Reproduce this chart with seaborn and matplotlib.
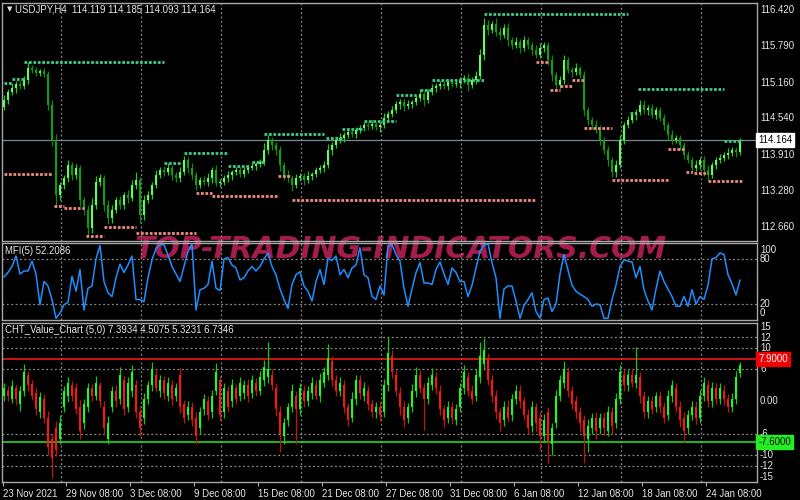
import numpy as np
import pandas as pd
import matplotlib
matplotlib.use("Agg")
import matplotlib.pyplot as plt
from matplotlib import font_manager
import seaborn as sns

# ---------------- data ----------------
symbol_header = "USDJPY,H4  114.119 114.185 114.093 114.164"
mfi_header = "MFI(5) 52.2086"
vc_header = "CHT_Value_Chart (5,0) 7.3934 4.5075 5.3231 6.7346"
watermark = "TOP-TRADING-INDICATORS.COM"

first_open = 114.74
closes = [
    114.860, 114.999, 115.068, 115.138, 115.103, 115.207, 115.415, 115.380, 115.328, 115.363,
    115.311, 114.774, 114.167, 113.214, 113.387, 113.508, 113.734, 113.560, 113.682, 113.127,
    112.954, 112.642, 113.040, 113.439, 113.508, 113.040, 112.815, 112.954, 113.127, 113.040,
    113.214, 113.162, 113.387, 113.474, 112.867, 113.127, 113.214, 113.387, 113.560, 113.647,
    113.612, 113.682, 113.560, 113.508, 113.612, 113.820, 113.682, 113.560, 113.387, 113.474,
    113.439, 113.508, 113.647, 113.422, 113.439, 113.508, 113.560, 113.612, 113.647, 113.578,
    113.647, 113.682, 113.716, 113.751, 113.786, 113.994, 114.167, 114.080, 113.994, 113.734,
    113.560, 113.508, 113.387, 113.508, 113.543, 113.474, 113.543, 113.578, 113.647, 113.682,
    113.734, 113.994, 114.080, 114.167, 114.202, 114.254, 114.306, 114.271, 114.340, 114.375,
    114.427, 114.410, 114.444, 114.392, 114.427, 114.548, 114.618, 114.687, 114.791, 114.826,
    114.756, 114.791, 114.826, 114.895, 114.964, 114.860, 114.999, 115.068, 115.103, 115.138,
    115.103, 115.172, 115.138, 115.155, 115.207, 115.241, 115.120, 115.207, 115.276, 115.640,
    116.160, 116.073, 116.177, 116.039, 115.987, 116.108, 115.900, 115.813, 115.865, 115.761,
    115.900, 115.813, 115.727, 115.640, 115.761, 115.813, 115.553, 115.293, 115.120, 115.207,
    115.553, 115.380, 115.345, 115.415, 115.293, 114.687, 114.514, 114.427, 114.375, 114.167,
    113.994, 113.820, 113.612, 113.734, 114.167, 114.427, 114.514, 114.600, 114.652, 114.774,
    114.687, 114.722, 114.600, 114.687, 114.548, 114.427, 114.254, 114.167, 114.202, 114.080,
    113.907, 113.820, 113.682, 113.734, 113.820, 113.647, 113.560, 113.734, 113.820, 113.855,
    113.907, 113.942, 113.994, 113.960, 114.164,
]
upper_wick_pips = [
    8, 6, 9, 5, 6, 7, 10, 5, 6, 4,
    5, 6, 8, 10, 6, 5, 9, 6, 7, 5,
    6, 8, 12, 10, 7, 6, 9, 8, 6, 7,
    5, 8, 9, 14, 6, 8, 7, 6, 9, 5,
    7, 8, 6, 5, 9, 7, 6, 8, 5, 6,
    7, 9, 6, 8, 5, 6, 7, 4, 6, 5,
    6, 5, 7, 4, 6, 12, 8, 6, 5, 7,
    6, 8, 5, 7, 6, 5, 8, 4, 6, 5,
    7, 10, 6, 5, 8, 6, 7, 5, 6, 5,
    6, 5, 7, 4, 6, 8, 6, 7, 5, 6,
    5, 7, 4, 6, 8, 5, 6, 7, 5, 6,
    5, 6, 4, 7, 6, 5, 8, 6, 9, 10,
    12, 8, 6, 10, 8, 7, 9, 6, 8, 5,
    7, 6, 5, 8, 9, 6, 5, 8, 6, 7,
    8, 5, 6, 9, 4, 7, 6, 5, 8, 6,
    6, 7, 5, 9, 8, 6, 7, 5, 6, 9,
    8, 6, 7, 5, 6, 7, 5, 8, 6, 5,
    6, 7, 5, 8, 6, 7, 9, 5, 6, 7,
    6, 8, 5, 6, 4,
]
lower_wick_pips = [
    6, 7, 5, 8, 6, 5, 7, 6, 5, 6,
    6, 8, 10, 20, 8, 7, 6, 9, 7, 10,
    8, 12, 9, 6, 7, 10, 11, 8, 6, 7,
    6, 9, 5, 7, 14, 8, 6, 7, 5, 6,
    7, 5, 8, 6, 7, 6, 9, 7, 8, 6,
    5, 7, 8, 6, 7, 5, 6, 8, 5, 6,
    5, 6, 4, 7, 5, 6, 7, 8, 9, 10,
    8, 7, 10, 6, 5, 8, 6, 7, 5, 6,
    7, 6, 8, 5, 6, 7, 5, 6, 7, 5,
    6, 7, 5, 6, 8, 5, 7, 6, 5, 8,
    9, 6, 7, 5, 6, 10, 5, 6, 7, 5,
    6, 7, 5, 6, 8, 5, 10, 6, 7, 5,
    8, 9, 6, 7, 8, 6, 10, 7, 6, 8,
    6, 7, 8, 6, 5, 7, 9, 10, 8, 6,
    7, 6, 8, 5, 6, 10, 8, 7, 9, 8,
    7, 10, 9, 8, 6, 7, 5, 6, 8, 6,
    7, 8, 6, 7, 5, 8, 9, 7, 6, 8,
    7, 6, 9, 5, 7, 10, 8, 6, 7, 5,
    6, 7, 5, 8, 5,
]
# resistance (green) and support (salmon) fractal levels: (first bar, last bar, price)
res_levels = [
    (0, 2, 115.155), (2, 5, 115.224), (5, 40, 115.519), (40, 44.5, 113.768),
    (45, 56, 113.947), (56, 61.5, 113.716), (62, 65, 113.786), (65, 80, 114.271),
    (80.5, 84.5, 114.202), (84.5, 89.5, 114.358), (90, 98, 114.496), (98, 103, 114.947),
    (104, 107, 115.033), (107, 120, 115.207), (120, 156, 116.342), (156.5, 158, 114.635),
    (158.5, 180, 115.051), (180, 184.5, 114.150),
]
sup_levels = [
    (0, 12, 113.578), (12.5, 15, 113.023), (15, 20, 112.988), (20.5, 25, 112.503),
    (25, 33, 112.659), (33, 48, 112.555), (48, 52, 113.248), (52, 68.5, 113.196),
    (68.5, 71.5, 113.543), (72, 133, 113.127), (133, 136, 115.519), (136.5, 139, 115.033),
    (139, 142, 115.103), (142, 145, 115.207), (145, 152, 114.375), (152, 166, 113.474),
    (166, 170, 114.011), (170.5, 172, 113.612), (172.5, 176, 113.595), (176, 184.5, 113.456),
]
last_price = 114.164

mfi_values = [
    56, 62, 70, 84, 60, 64, 64, 77, 60, 19,
    50, 44, 26, 1, 8, 19, 22, 57, 37, 66,
    12, 41, 44, 80, 98, 50, 35, 30, 55, 73,
    62, 72, 84, 26, 26, 23, 55, 79, 94, 99,
    99, 85, 70, 60, 50, 70, 90, 100, 12, 39,
    41, 46, 77, 41, 38, 80, 82, 72, 68, 52,
    55, 64, 70, 64, 70, 80, 88, 70, 59, 40,
    26, 14, 46, 59, 63, 44, 37, 24, 50, 66,
    46, 81, 78, 84, 59, 66, 55, 68, 72, 95,
    59, 55, 30, 26, 44, 32, 97, 99, 86, 77,
    41, 17, 40, 62, 75, 48, 48, 46, 66, 76,
    60, 46, 68, 62, 50, 50, 30, 45, 68, 90,
    99, 100, 75, 55, 1, 40, 44, 44, 24, 1,
    18, 26, 35, 10, 1, 26, 28, 10, 20, 60,
    86, 65, 45, 37, 33, 30, 26, 17, 20, 19,
    1, 1, 26, 45, 70, 79, 77, 76, 55, 70,
    39, 24, 12, 40, 64, 50, 40, 30, 17, 17,
    30, 17, 39, 20, 30, 26, 45, 80, 82, 88,
    86, 59, 47, 32, 52,
]

vc_open = [
    1.0, 2.0, 0.5, 2.5, -0.5, 2.0, 5.0, 3.2, 1.5, -2.0,
    0.5, -3.0, -7.0, -5.0, -7.0, -1.0, 1.0, 3.0, 2.5, -1.0,
    -4.0, -1.0, 2.5, 1.0, 3.0, -1.0, -7.0, -1.0, 2.0, 0.5,
    4.0, -1.0, 2.0, 3.0, -2.0, -3.0, 0.5, 3.0, 5.0, 2.0,
    4.0, 1.0, 3.0, 1.0, 5.0, -0.5, -2.5, -1.0, -3.0, -5.0,
    -1.5, 0.0, -2.0, 2.0, 4.0, -2.0, 2.0, 0.0, 2.5, 1.0,
    1.5, 3.0, 1.5, 3.5, 2.0, 4.0, 4.5, 5.0, 2.5, -2.0,
    -6.5, -3.5, -1.0, 1.0, -1.5, 2.0, 0.0, 1.5, 3.0, 1.0,
    3.5, 5.0, 7.5, 4.0, 2.0, 3.0, -1.0, -3.0, 0.5, 4.0,
    1.0, 2.0, -0.5, -2.0, -1.0, -2.0, 3.0, 8.5, 5.0, 1.5,
    -1.0, -3.0, -1.0, 2.0, 5.0, 2.5, 0.5, 3.0, 4.5, 2.0,
    -1.5, -3.0, -1.0, -3.5, -1.0, 2.5, 4.5, 2.0, 1.0, 4.5,
    7.0, 8.0, 4.0, 1.0, -2.0, -3.5, -1.0, -2.5, 0.5, 2.0,
    0.0, -2.5, -4.5, -1.0, -3.0, -6.5, -2.0, -8.0, -4.0, 1.0,
    3.5, 5.5, 2.0, 0.0, -2.0, -3.5, -7.0, -5.0, -3.0, -5.0,
    -3.0, -5.5, -2.0, -4.0, 0.5, 5.0, 3.0, 5.0, 3.5, 4.5,
    1.0, -2.0, 0.0, -1.0, 1.0, -1.0, -2.5, 1.0, 2.5, -1.0,
    -3.0, -5.0, -2.5, -1.0, -3.0, 1.0, 3.0, 0.0, 2.5, 0.5,
    2.0, 0.5, -1.0, 0.5, 5.3,
]
vc_close = [
    2.5, 1.0, 2.8, 0.5, 2.0, 5.5, 3.0, 1.0, -1.5, 0.8,
    -3.0, -8.5, -10.5, -9.0, -4.0, 2.0, 3.5, 1.0, -1.5, -5.5,
    -0.5, 2.5, 1.0, 3.5, 0.0, -5.0, -4.0, 2.0, 0.0, 5.0,
    -1.5, 3.5, 5.5, -2.0, -5.0, 0.5, 3.0, 6.0, 2.5, 4.0,
    1.5, 3.5, 0.5, 2.5, -1.0, -3.0, -1.0, -3.5, -6.5, -2.0,
    0.5, -2.5, 1.0, 5.5, -2.5, 2.5, -1.0, 3.0, 0.5, 3.5,
    3.0, 1.0, 4.0, 2.0, 4.5, 6.5, 6.0, 3.0, -1.5, -6.0,
    -4.0, -1.0, 2.0, -1.5, 2.5, 0.0, 2.0, 3.5, 1.0, 4.0,
    5.5, 8.0, 4.0, 2.0, 3.5, -1.0, -3.5, 0.5, 4.0, 1.5,
    2.5, -0.5, -2.0, -1.0, -2.5, 3.0, 9.0, 5.5, 2.0, -1.0,
    -3.5, -1.0, 2.0, 5.0, 2.5, 0.5, 3.5, 5.0, 2.5, -1.5,
    -3.5, -1.0, -3.0, -1.5, 2.5, 5.5, 2.0, 0.5, 5.0, 8.5,
    9.5, 4.0, 1.0, -2.0, -4.0, -1.0, -3.0, 0.5, 2.0, 0.0,
    -2.5, -5.0, -1.0, -4.0, -6.5, -3.5, -7.5, -5.0, 1.0, 4.0,
    6.0, 2.0, -0.5, -2.0, -4.0, -6.5, -4.5, -3.0, -5.5, -3.0,
    -5.0, -2.0, -4.5, 0.5, 5.5, 3.0, 5.0, 3.5, 5.0, 1.0,
    -2.0, 0.0, -1.5, 1.0, -1.0, -3.0, 1.0, 3.0, -1.0, -3.5,
    -5.5, -2.5, -1.0, -3.0, 1.0, 3.5, 0.0, 2.5, 0.5, 2.5,
    0.5, -1.0, 0.5, 4.5, 6.7,
]
vc_wick_up = [
    1.0, 0.8, 1.2, 0.6, 0.9, 1.5, 0.7, 0.8, 1.0, 0.9,
    0.8, 1.2, 1.0, 1.4, 1.5, 0.9, 1.1, 0.8, 1.0, 1.2,
    1.0, 0.9, 0.8, 1.3, 0.7, 1.0, 1.2, 0.9, 1.0, 1.4,
    0.8, 1.0, 1.3, 0.9, 1.1, 1.0, 0.8, 1.4, 0.9, 1.0,
    0.8, 1.1, 0.9, 1.0, 1.2, 0.8, 1.0, 0.9, 1.1, 1.0,
    0.9, 1.0, 1.2, 1.6, 0.8, 1.0, 0.9, 1.1, 0.8, 1.0,
    0.9, 1.1, 1.0, 0.8, 1.2, 1.3, 5.0, 1.0, 0.9, 1.1,
    1.0, 0.8, 1.2, 0.9, 1.0, 1.1, 0.8, 1.0, 0.9, 1.2,
    1.0, 2.7, 1.0, 0.9, 1.1, 1.0, 0.8, 1.2, 1.0, 0.9,
    1.1, 0.8, 1.0, 0.9, 1.0, 1.2, 3.0, 1.0, 0.9, 1.1,
    1.0, 0.8, 1.2, 1.5, 0.9, 1.0, 1.1, 1.2, 0.9, 1.0,
    0.8, 1.0, 0.9, 1.1, 1.0, 1.2, 0.9, 1.0, 1.1, 2.5,
    2.3, 1.0, 0.9, 1.1, 0.8, 1.0, 1.2, 0.9, 1.0, 1.1,
    0.9, 1.0, 1.1, 0.8, 1.0, 1.2, 1.0, 0.9, 1.1, 1.0,
    1.5, 1.0, 0.8, 1.1, 0.9, 1.0, 1.2, 0.9, 1.0, 0.8,
    1.0, 1.1, 0.9, 1.0, 1.2, 1.0, 0.9, 1.1, 5.2, 1.0,
    0.9, 1.0, 1.1, 0.8, 1.0, 0.9, 1.2, 1.0, 0.9, 1.1,
    1.0, 0.9, 1.1, 1.0, 1.2, 1.0, 0.9, 1.1, 1.0, 0.9,
    1.0, 0.8, 1.1, 1.2, 0.7,
]
vc_wick_dn = [
    0.9, 1.0, 0.8, 1.1, 1.2, 0.9, 1.0, 0.8, 1.0, 1.1,
    1.0, 1.5, 3.8, 1.2, 1.0, 0.9, 1.1, 1.0, 0.9, 1.5,
    1.1, 0.9, 1.0, 0.8, 1.0, 1.2, 1.0, 0.9, 1.1, 1.0,
    1.0, 0.9, 1.1, 1.0, 1.5, 1.2, 0.9, 1.0, 0.8, 1.1,
    1.0, 0.9, 1.1, 1.0, 1.2, 1.0, 0.9, 1.1, 1.5, 1.0,
    1.1, 0.9, 1.0, 0.8, 1.2, 1.0, 0.9, 1.1, 1.0, 0.9,
    1.0, 1.1, 0.9, 1.0, 0.8, 1.1, 1.0, 0.9, 1.2, 3.5,
    1.5, 1.0, 0.9, 6.5, 1.0, 1.1, 0.9, 1.0, 0.8, 1.1,
    0.9, 1.0, 1.1, 1.0, 0.9, 1.2, 1.0, 0.9, 1.1, 1.0,
    1.0, 1.1, 0.9, 1.0, 1.2, 0.9, 1.0, 1.1, 1.0, 1.5,
    1.2, 1.0, 0.9, 1.1, 1.0, 5.8, 1.0, 0.9, 1.1, 1.0,
    1.5, 1.0, 1.2, 0.9, 1.0, 1.1, 1.0, 0.9, 1.0, 1.1,
    1.0, 0.9, 1.1, 1.2, 1.5, 1.0, 0.9, 1.1, 1.0, 1.2,
    1.0, 1.1, 1.2, 1.5, 2.5, 1.0, 4.0, 2.0, 1.0, 0.9,
    1.0, 1.1, 0.9, 1.2, 1.5, 5.0, 2.5, 1.0, 1.5, 1.0,
    1.2, 1.0, 1.5, 1.0, 0.9, 1.1, 1.0, 0.9, 1.0, 1.2,
    1.1, 1.0, 0.9, 1.0, 1.2, 1.0, 0.9, 1.1, 1.0, 1.2,
    2.0, 1.0, 0.9, 1.2, 1.0, 0.9, 1.1, 1.0, 0.9, 1.0,
    1.1, 1.0, 0.9, 1.0, 0.8,
]
vc_upper_level = 7.9
vc_lower_level = -7.6

time_labels = ["23 Nov 2021", "29 Nov 08:00", "3 Dec 08:00", "9 Dec 08:00", "15 Dec 08:00",
               "21 Dec 08:00", "27 Dec 08:00", "31 Dec 08:00", "6 Jan 08:00", "12 Jan 08:00",
               "18 Jan 08:00", "24 Jan 08:00"]
price_ticks = [116.420, 115.790, 115.160, 114.540, 113.910, 113.280, 112.660]
mfi_ticks = [100, 80, 20, 0]
vc_ticks = ["15", "12", "10", "6", "0.00", "-6", "-10", "-12", "-15"]

# ---------------- style ----------------
sns.set_theme(style="dark", rc={"axes.facecolor": "none", "figure.facecolor": "black",
                                "axes.grid": False})
names = {f.name for f in font_manager.fontManager.ttflist}
small = "Liberation Sans" if "Liberation Sans" in names else "DejaVu Sans"
plt.rcParams["font.family"] = [small, "DejaVu Sans"]

TXT = "#E8E8E8"
GRID = "#8A8A8A"
SPINE = "#A8A8A8"
FS = 6.9

n = len(closes)
idx = np.arange(n)
xmin, xmax = -0.5, 188.25
vgrid = [14.25 + 20 * k for k in range(9)]
tick_pos = [-0.3, 15.5, 31.5, 47.5, 63.5, 79.5, 95.5, 111.5, 127.5, 143.5, 159.5, 175.5]

fig = plt.figure(figsize=(8, 5), dpi=100, facecolor="black")
W = 755 / 800
ax1 = fig.add_axes([2 / 800, 1 - 241 / 500, W, 238 / 500])
ax2 = fig.add_axes([2 / 800, 1 - 320 / 500, W, 77 / 500])
ax3 = fig.add_axes([2 / 800, 1 - 482 / 500, W, 159 / 500])

for ax in (ax1, ax2, ax3):
    ax.set_facecolor("none")
    ax.set_xlim(xmin, xmax)
    for s in ax.spines.values():
        s.set_color(SPINE)
        s.set_linewidth(1.0)
        s.set_visible(True)
    ax.set_yticks([])
    for g in vgrid:
        ax.axvline(g, color=GRID, lw=0.9, ls=(0, (1.5, 2.0)), zorder=1)
ax1.set_xticks([])
ax2.set_xticks([])

# watermark behind the panels
fig.text(401 / 800, 1 - 249 / 500, watermark, ha="center", va="center",
         fontsize=21.5, fontweight="bold", fontstyle="oblique", family="DejaVu Sans",
         color="#A31C4D", zorder=-1)


def draw_candles(ax, o, c, h, l, up_body, dn_body, up_wick, dn_wick, width, minh):
    o = np.asarray(o, float)
    c = np.asarray(c, float)
    up = c >= o
    ax.vlines(idx, l, h, colors=np.where(up, up_wick, dn_wick), linewidth=0.9, zorder=3)
    ax.bar(idx, np.maximum(np.abs(c - o), minh), bottom=np.minimum(o, c), width=width,
           color=np.where(up, up_body, dn_body), linewidth=0, zorder=4)


# ---- price panel ----
c = np.array(closes)
o = np.array([first_open] + closes[:-1])
hi = np.maximum(o, c) + np.array(upper_wick_pips) / 100
lo = np.minimum(o, c) - np.array(lower_wick_pips) / 100
ax1.set_ylim(112.417, 116.541)
ax1.axhline(last_price, color="#7A8796", lw=0.9, zorder=2)
draw_candles(ax1, o, c, hi, lo, "#5CFF5C", "#0FA00F", "#22C922", "#0B8A0B", 0.62, 0.008)
for s, e, p in res_levels:
    ax1.plot([s, e], [p, p], color="#3CCB86", lw=2.0, ls=(0, (1.0, 0.6)), zorder=5,
             solid_capstyle="butt")
for s, e, p in sup_levels:
    ax1.plot([s, e], [p, p], color="#F08A7E", lw=2.0, ls=(0, (1.0, 0.6)), zorder=5,
             solid_capstyle="butt")
ytr = ax1.get_yaxis_transform()
for p in price_ticks:
    ax1.text(1.004, p, f"{p:.3f}", transform=ytr, ha="left", va="center",
             fontsize=FS, color=TXT, clip_on=False)
ax1.text(1.0015, last_price, f"{last_price:.3f}", transform=ytr, ha="left", va="center",
         fontsize=FS, color="black", clip_on=False,
         bbox=dict(boxstyle="square,pad=0.22", fc="white", ec="white"))
ax1.text(0.006, 0.975, "\u25bc", transform=ax1.transAxes, fontsize=5, color=TXT,
         va="center", ha="left", family="DejaVu Sans")
ax1.text(0.017, 0.974, symbol_header, transform=ax1.transAxes, fontsize=FS, color=TXT,
         va="center", ha="left")

# ---- MFI panel ----
df_mfi = pd.DataFrame({"bar": idx, "mfi": mfi_values})
sns.lineplot(data=df_mfi, x="bar", y="mfi", ax=ax2, color="#1E8FFF", lw=1.1, zorder=4)
ax2.set_ylim(-1.3, 101.3)
ax2.set_xlabel("")
ax2.set_ylabel("")
for g in (80, 20):
    ax2.axhline(g, color=GRID, lw=0.9, ls=(0, (1.5, 2.0)), zorder=1)
ytr2 = ax2.get_yaxis_transform()
for v, pos in zip(mfi_ticks, [92, 80, 20, 8]):
    ax2.text(1.004, pos, str(v), transform=ytr2, ha="left", va="center",
             fontsize=FS, color=TXT, clip_on=False)
ax2.text(0.004, 0.89, mfi_header, transform=ax2.transAxes, fontsize=FS, color=TXT,
         va="center", ha="left")

# ---- Value chart panel ----
vo = np.array(vc_open)
vcl = np.array(vc_close)
vh = np.maximum(vo, vcl) + np.array(vc_wick_up)
vl = np.minimum(vo, vcl) - np.array(vc_wick_dn)
ax3.set_ylim(-15.0, 14.6)
for g in (12, 10, 6, -6, -10, -12):
    ax3.axhline(g, color=GRID, lw=0.9, ls=(0, (1.5, 2.0)), zorder=1)
ax3.axhline(vc_upper_level, color="#FF1A1A", lw=1.1, zorder=2)
ax3.axhline(vc_lower_level, color="#22EE22", lw=1.1, zorder=2)
draw_candles(ax3, vo, vcl, vh, vl, "#19FF19", "#FF1414", "#14C814", "#C81010", 0.6, 0.15)
ytr3 = ax3.get_yaxis_transform()
for lbl, pos in zip(vc_ticks, [13.9, 11.8, 10.0, 6.0, 0.0, -6.0, -10.0, -12.0, -14.0]):
    ax3.text(1.004, pos, lbl, transform=ytr3, ha="left", va="center",
             fontsize=FS, color=TXT, clip_on=False)
ax3.text(1.0015, vc_upper_level, f"{vc_upper_level:.4f}", transform=ytr3, ha="left",
         va="center", fontsize=FS, color="white", clip_on=False,
         bbox=dict(boxstyle="square,pad=0.22", fc="#F00000", ec="#F00000"))
ax3.text(1.0015, vc_lower_level, f"{vc_lower_level:.4f}", transform=ytr3, ha="left",
         va="center", fontsize=FS, color="black", clip_on=False,
         bbox=dict(boxstyle="square,pad=0.22", fc="#22EE22", ec="#22EE22"))
ax3.text(0.004, 0.955, vc_header, transform=ax3.transAxes, fontsize=FS, color=TXT,
         va="center", ha="left")

ax3.set_xticks(tick_pos)
ax3.set_xticklabels(time_labels, fontsize=FS, color=TXT)
for t in ax3.get_xticklabels():
    t.set_ha("left")
ax3.tick_params(axis="x", direction="out", length=3, width=0.8, color=SPINE, pad=2,
                bottom=True)

fig.savefig("out.png", dpi=100, facecolor="black")
